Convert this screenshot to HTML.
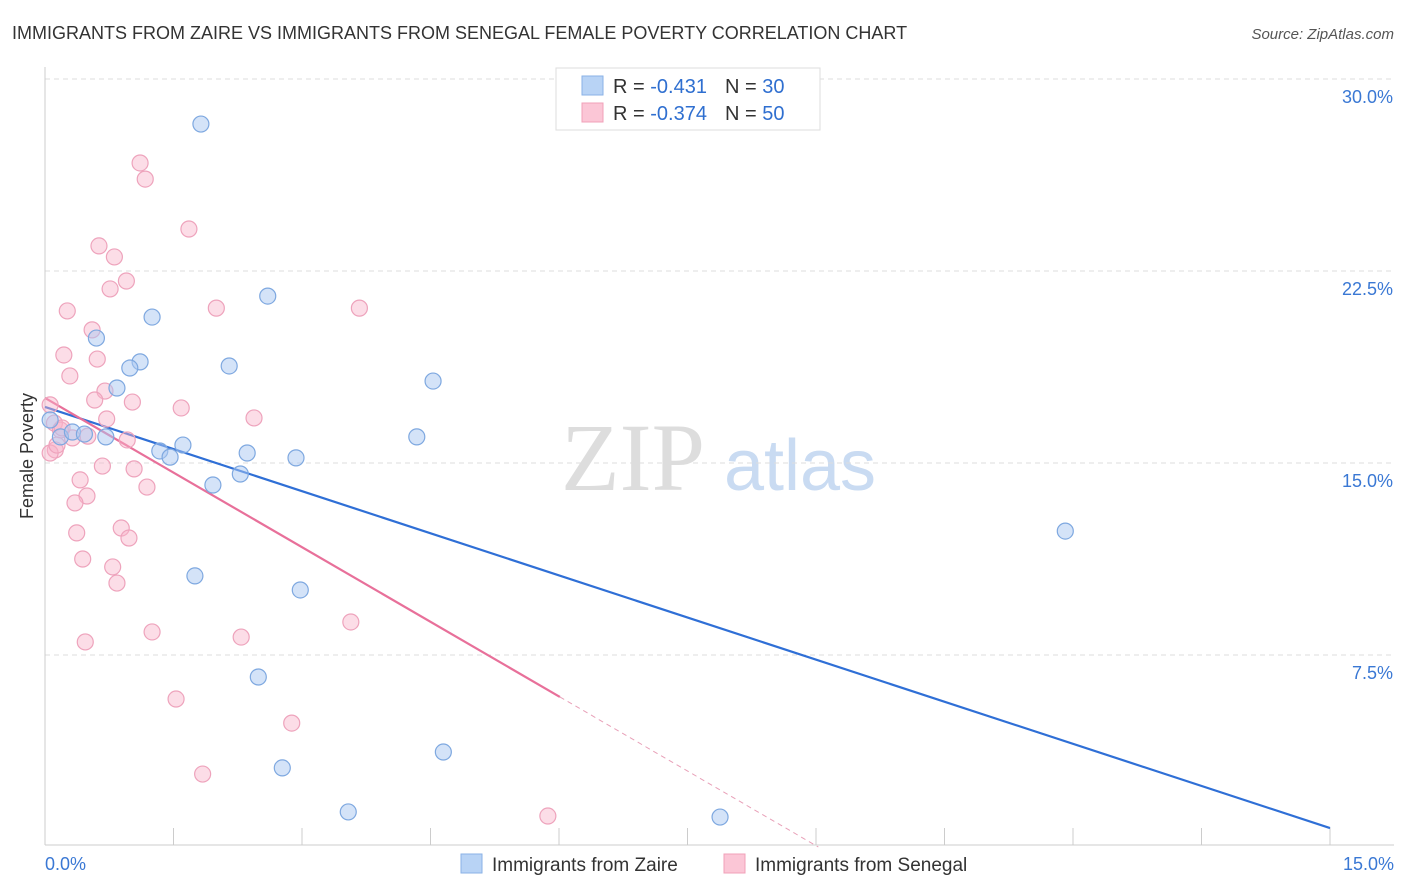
<!DOCTYPE html>
<html><head><meta charset="utf-8"><style>
body{margin:0;background:#fff;font-family:"Liberation Sans",sans-serif;}
svg{display:block}
</style></head><body>
<svg id="chart" width="1406" height="892">
<text x="12" y="39" font-size="18" fill="#333">IMMIGRANTS FROM ZAIRE VS IMMIGRANTS FROM SENEGAL FEMALE POVERTY CORRELATION CHART</text>
<text x="1394" y="39" font-size="15" fill="#555" font-style="italic" text-anchor="end">Source: ZipAtlas.com</text>
<text transform="translate(33,456) rotate(-90)" font-size="18" fill="#333" text-anchor="middle">Female Poverty</text>
<g><text x="633" y="490" font-size="96" font-family="Liberation Serif,serif" fill="#ddd" text-anchor="middle">ZIP</text><text x="800" y="490" font-size="72" fill="#c9dbf2" text-anchor="middle">atlas</text></g>
<g id="grid"></g><g id="axes"></g><g id="lines"></g><g id="pts"></g>
<g>
<rect x="556" y="68" width="264" height="62" fill="#fff" stroke="#ddd"/>
<rect x="582" y="76" width="21" height="19" fill="#b8d3f5" stroke="#8ab2e6"/>
<rect x="582" y="103" width="21" height="19" fill="#fbc6d6" stroke="#f0a0b8"/>
<text x="613" y="93" font-size="20" fill="#333">R = <tspan fill="#2f6fd0">-0.431</tspan><tspan dx="18">N = </tspan><tspan fill="#2f6fd0">30</tspan></text>
<text x="613" y="120" font-size="20" fill="#333">R = <tspan fill="#2f6fd0">-0.374</tspan><tspan dx="18">N = </tspan><tspan fill="#2f6fd0">50</tspan></text>
</g>
<g>
<rect x="461" y="854" width="21" height="19" fill="#b8d3f5" stroke="#8ab2e6"/>
<text x="492" y="871" font-size="19" fill="#333">Immigrants from Zaire</text>
<rect x="724" y="854" width="21" height="19" fill="#fbc6d6" stroke="#f0a0b8"/>
<text x="755" y="871" font-size="19" fill="#333">Immigrants from Senegal</text>
</g>
</svg>
<script>
const xTicks=[0,1.5,3,4.5,6,7.5,9,10.5,12,13.5,15];
const yTicks=[7.5,15,22.5,30];
const yTickLabels=["7.5%","15.0%","22.5%","30.0%"];
const zaireX=[1.82,2.60,1.25,0.60,1.11,0.99,2.15,0.84,4.53,4.34,0.71,0.18,0.32,0.46,1.61,1.34,1.46,2.36,2.93,2.28,1.96,11.91,1.75,2.98,2.49,4.65,2.77,3.54,7.88,0.06];
const zaireY=[28.24,21.52,20.70,19.88,18.95,18.71,18.79,17.93,18.20,16.02,16.02,16.02,16.21,16.13,15.70,15.47,15.23,15.39,15.20,14.57,14.14,12.34,10.59,10.04,6.64,3.71,3.09,1.37,1.17,16.68];
const senegalX=[1.11,1.17,1.68,0.63,0.81,0.95,0.76,2.00,3.67,0.26,0.55,0.22,0.61,0.29,0.70,0.58,1.02,1.59,0.06,0.72,2.44,0.11,0.18,0.50,0.96,0.32,0.12,0.06,0.67,1.04,0.41,1.19,0.49,0.35,0.89,0.37,0.98,0.44,0.79,0.84,3.57,1.25,2.29,0.47,1.53,2.88,1.84,5.87,0.14,0.20];
const senegalY=[26.72,26.09,24.14,23.48,23.05,22.11,21.80,21.05,21.05,20.94,20.20,19.22,19.06,18.40,17.81,17.46,17.38,17.15,17.27,16.72,16.76,16.56,16.29,16.05,15.90,15.98,15.51,15.39,14.88,14.77,14.34,14.06,13.71,13.44,12.46,12.27,12.07,11.25,10.94,10.31,8.79,8.40,8.20,8.01,5.78,4.84,2.85,1.21,15.70,16.37];
const zaireTrend=[17.19,0.74];
const senegalTrend=[17.54,-1.943,6.01];
const NS="http://www.w3.org/2000/svg";
const X=v=>45+v/15*1285, Y=v=>847-v*25.6;
function mk(p,t,a){const e=document.createElementNS(NS,t);for(const k in a)e.setAttribute(k,a[k]);document.getElementById(p).appendChild(e);return e;}
yTicks.forEach((t,i)=>{
 const g=mk('grid','line',{x1:45,x2:1394,y1:Y(t),y2:Y(t),stroke:'#ddd','stroke-dasharray':'5,4'});
 
 
 const l=mk('axes','text',{x:1393,y:Y(t)+24,'font-size':18,fill:'#3a78d4','text-anchor':'end'});
 l.textContent=yTickLabels[i];
 
 
});
const ax=mk('axes','line',{x1:45,x2:45,y1:67,y2:845,stroke:'#ccc'});


const bx=mk('axes','line',{x1:45,x2:1394,y1:845,y2:845,stroke:'#ccc'});


xTicks.forEach(t=>{const e=mk('axes','line',{x1:X(t),x2:X(t),y1:828,y2:845,stroke:'#ccc'});
 
 });
[[0,"0.0%",'start',45],[15,"15.0%",'end',1394]].forEach(a=>{const e=mk('axes','text',{x:a[3],y:870,'font-size':18,fill:'#3a78d4','text-anchor':a[2]});e.textContent=a[1];
 
 });
const bl=mk('lines','line',{x1:X(0),y1:Y(zaireTrend[0]),x2:X(15),y2:Y(zaireTrend[1]),stroke:'#2f6fd6','stroke-width':2.2});


const z0=-senegalTrend[0]/senegalTrend[1];
const pl=mk('lines','line',{x1:X(0),y1:Y(senegalTrend[0]),x2:X(senegalTrend[2]),y2:Y(senegalTrend[0]+senegalTrend[1]*senegalTrend[2]),stroke:'#e8709a','stroke-width':2.2});


const pd=mk('lines','line',{x1:X(senegalTrend[2]),y1:Y(senegalTrend[0]+senegalTrend[1]*senegalTrend[2]),x2:X(z0),y2:Y(0),stroke:'#e8a0b8','stroke-width':1,'stroke-dasharray':'5,4'});


senegalX.forEach((v,i)=>{const c=mk('pts','circle',{cx:X(v),cy:Y(senegalY[i]),r:8,fill:'rgba(248,180,202,0.45)',stroke:'#eea3bc','stroke-width':1.2});
 
 });
zaireX.forEach((v,i)=>{const c=mk('pts','circle',{cx:X(v),cy:Y(zaireY[i]),r:8,fill:'rgba(170,200,242,0.5)',stroke:'#7ea8e0','stroke-width':1.2});
 
 });
</script>
</body></html>
